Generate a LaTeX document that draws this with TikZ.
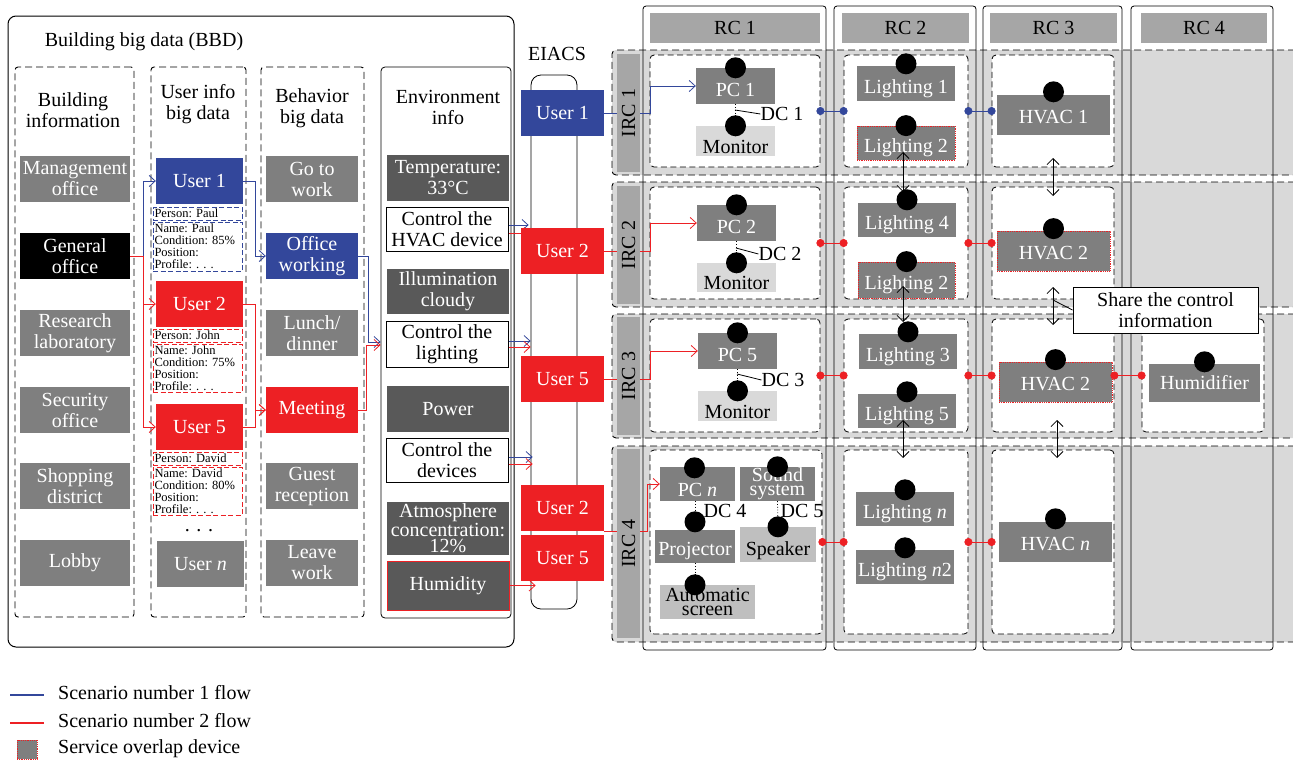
\documentclass[tikz,border=0pt]{standalone}
\usepackage{fontspec}
\setmainfont{Liberation Serif}
\usetikzlibrary{arrows.meta,calc}
\definecolor{cblue}{RGB}{51,71,155}
\definecolor{cred}{RGB}{237,32,36}
\definecolor{cgray}{RGB}{127,127,127}
\definecolor{cdark}{RGB}{89,89,89}
\definecolor{clight}{RGB}{217,217,217}
\definecolor{chead}{RGB}{166,166,166}
\definecolor{cmid}{RGB}{191,191,191}
\newcommand\mfs{\fontsize{20}{21}\selectfont}
\newcommand\sfs{\fontsize{12.5}{12}\selectfont\frenchspacing}
\begin{document}
\begin{tikzpicture}[x=1pt,y=-1pt,
  rect/.style n args={4}{at={({(#1+#3)/2},{(#2+#4)/2})}, minimum width={(#3-#1)*1pt}, minimum height={(#4-#2)*1pt}},
  mtext/.style={font=\mfs, align=center, inner sep=0pt},
  bx/.style={inner sep=0pt, align=center, font=\mfs},
  gbx/.style={bx, fill=cgray, text=white},
  kbx/.style={bx, fill=black, text=white},
  bbx/.style={bx, fill=cblue, text=white},
  rbx/.style={bx, fill=cred, text=white},
  dbx/.style={bx, fill=cdark, text=white},
  wbx/.style={bx, draw=black, fill=white, line width=1pt},
  hbx/.style={bx, fill=chead},
  pbx/.style={inner sep=0pt, dash pattern=on 5pt off 2.5pt, line width=0.9pt, font=\sfs, align=left, text width=86pt},
  dcol/.style={draw, dash pattern=on 7pt off 4pt, line width=0.9pt, rounded corners=3pt, inner sep=0pt},
  irow/.style={draw, fill=clight, dash pattern=on 7pt off 4pt, line width=0.9pt, rounded corners=4pt, inner sep=0pt},
  rcol/.style={draw, line width=0.8pt, rounded corners=3pt, inner sep=0pt},
  ccell/.style={draw, fill=white, dash pattern=on 6pt off 3.5pt, line width=0.8pt, rounded corners=4pt, inner sep=0pt},
  devl/.style={bx, fill=clight},
  devm/.style={bx, fill=cmid},
  ovl/.style={gbx, draw=cred, densely dotted, line width=0.8pt},
  blob/.style={circle, fill=black, minimum size=21pt, inner sep=0pt},
  bflow/.style={draw=cblue, line width=0.8pt},
  rflow/.style={draw=cred, line width=0.8pt},
  arr/.style={-{Straight Barb[length=6pt,width=11pt]}},
  dbl/.style={{Straight Barb[length=6pt,width=12pt]}-{Straight Barb[length=6pt,width=12pt]}, line width=0.8pt},
  lnk/.style={{Circle[length=8pt]}-{Circle[length=8pt]}, shorten <=-4pt, shorten >=-4pt, line width=0.8pt},
  irc/.style={fill=chead, rotate=90, minimum height=23pt, inner sep=0pt, font=\mfs},
  tl/.style={text height=#1, text depth=0pt}
]
\useasboundingbox (0,0) rectangle (1293,761);
\fill[white] (0,0) rectangle (1293,761);

% ---------------- BBD ----------------
\node[draw, rounded corners=8pt, line width=1pt, inner sep=0pt, rect={8}{16}{514}{647}] (bbd) {};
\node[mtext] (bbdt) at (144,42) {Building big data (BBD)};
\node[dcol, rect={15}{67}{134}{617}] (colb) {};
\node[dcol, rect={151}{67}{246}{617}] (colu) {};
\node[dcol, rect={261}{67}{364}{617}] (colh) {};
\node[mtext] (hb) at (73,110) {Building\\information};
\node[mtext] (hu) at (198,104) {User info\\big data};
\node[mtext] (hh) at (312,108) {Behavior\\big data};

\node[gbx, rect={20}{156}{130}{202}] (b1) {Management\\office};
\node[kbx, rect={20}{233}{130}{279}] (b2) {General\\office};
\node[gbx, rect={20}{310}{130}{356}] (b3) {Research\\laboratory};
\node[gbx, rect={20}{387}{130}{433}] (b4) {Security\\office};
\node[gbx, rect={20}{463}{130}{509}] (b5) {Shopping\\district};
\node[gbx, rect={20}{540}{130}{586}] (b6) {Lobby};

\node[bbx, rect={156}{158}{243}{204}] (u1) {User 1};
\node[pbx, draw=cblue, rect={153}{207}{242}{220}] (p1a) {Person: Paul};
\node[pbx, draw=cblue, rect={153}{222}{242}{271}] (p1b) {Name: Paul\\Condition: 85\%\\Position:\\Profile: . . .};
\node[rbx, rect={156}{281}{243}{327}] (u2) {User 2};
\node[pbx, draw=cred, rect={153}{329}{242}{342}] (p2a) {Person: John};
\node[pbx, draw=cred, rect={153}{344}{242}{392}] (p2b) {Name: John\\Condition: 75\%\\Position:\\Profile: . . .};
\node[rbx, rect={156}{404}{243}{450}] (u5) {User 5};
\node[pbx, draw=cred, rect={153}{452}{242}{465}] (p5a) {Person: David};
\node[pbx, draw=cred, rect={153}{467}{242}{515}] (p5b) {Name: David\\Condition: 80\%\\Position:\\Profile: . . .};
\node[mtext] (udots) at (199,531) {. . .};
\node[gbx, rect={157}{541}{244}{587}] (un) {User \textit{n}};

\node[gbx, rect={266}{156}{358}{202}] (h1) {Go to\\work};
\node[bbx, rect={266}{233}{358}{279}] (h2) {Office\\working};
\node[gbx, rect={266}{310}{358}{356}] (h3) {Lunch/\\dinner};
\node[rbx, rect={266}{387}{358}{433}] (h4) {Meeting};
\node[gbx, rect={266}{463}{358}{509}] (h5) {Guest\\reception};
\node[gbx, rect={266}{540}{358}{586}] (h6) {Leave\\work};

% ---------------- Environment ----------------
\node[draw, rounded corners=4pt, line width=0.8pt, inner sep=0pt, rect={381}{67}{511}{618}] (env) {};
\node[mtext] (envt) at (448,107) {Environment\\info};
\node[dbx, rect={387}{155}{509}{201}] (temp) {Temperature:\\33°C};
\node[wbx, rect={386}{207}{508}{251}] (cth) {Control the\\HVAC device};
\node[dbx, rect={387}{269}{509}{314}] (ill) {Illumination\\cloudy};
\node[wbx, rect={386}{321}{508}{367}] (ctl) {Control the\\lighting};
\node[dbx, rect={387}{386}{509}{432}] (pow) {Power};
\node[wbx, rect={386}{438}{508}{482}] (ctd) {Control the\\devices};
\node[dbx, font=\fontsize{20}{16.5}\selectfont, rect={387}{502}{509}{555}] (atm) {Atmosphere\\concentration:\\12\%};
\node[dbx, draw=cred, line width=0.9pt, rect={387}{561}{509}{610}] (hum) {Humidity};

% ---------------- EIACS ----------------
\node[mtext] (eiacst) at (557,54) {EIACS};
\node[draw, rounded corners=10pt, line width=0.8pt, inner sep=0pt, rect={531}{75}{577}{609}] (eiacs) {};

% ---------------- Right grid ----------------
\node[irow, rect={612}{50}{1310}{175}] (r1) {};
\node[irow, rect={612}{182}{1310}{307}] (r2) {};
\node[irow, rect={612}{314}{1310}{438}] (r3) {};
\node[irow, rect={612}{446}{1310}{642}] (r4) {};
\node[rcol, rect={643}{6}{826}{650}] (rc1) {};
\node[rcol, rect={834}{6}{976}{650}] (rc2) {};
\node[rcol, rect={983}{6}{1122}{650}] (rc3) {};
\node[rcol, rect={1131}{6}{1273}{650}] (rc4) {};
\node[hbx, rect={650}{13}{820}{43}] (hd1) {RC 1};
\node[hbx, rect={842}{13}{969}{43}] (hd2) {RC 2};
\node[hbx, rect={990}{13}{1117}{43}] (hd3) {RC 3};
\node[hbx, rect={1141}{13}{1267}{43}] (hd4) {RC 4};

\node[ccell, rect={650}{55}{820}{167}] (c11) {};
\node[ccell, rect={650}{187}{820}{299}] (c12) {};
\node[ccell, rect={650}{319}{820}{432}] (c13) {};
\node[ccell, rect={650}{450}{822}{634}] (c14) {};
\node[ccell, rect={844}{55}{968}{167}] (c21) {};
\node[ccell, rect={844}{187}{968}{299}] (c22) {};
\node[ccell, rect={844}{319}{968}{432}] (c23) {};
\node[ccell, rect={844}{450}{968}{634}] (c24) {};
\node[ccell, rect={992}{55}{1114}{167}] (c31) {};
\node[ccell, rect={992}{187}{1114}{299}] (c32) {};
\node[ccell, rect={992}{319}{1114}{432}] (c33) {};
\node[ccell, rect={992}{450}{1114}{634}] (c34) {};
\node[ccell, rect={1142}{319}{1264}{432}] (c43) {};

% devices RC1
\node[gbx, tl=21pt, rect={696}{68}{775}{104}] (pc1) {PC 1};
\node[devl, tl=24pt, rect={696}{126}{775}{156}] (mon1) {Monitor};
\node[gbx, tl=21pt, rect={697}{205}{776}{241}] (pc2) {PC 2};
\node[devl, tl=24pt, rect={697}{263}{776}{292}] (mon2) {Monitor};
\node[gbx, tl=21pt, rect={698}{333}{777}{369}] (pc5) {PC 5};
\node[devl, tl=24pt, rect={698}{391}{777}{421}] (mon5) {Monitor};
\node[gbx, tl=24pt, rect={660}{467}{735}{501}] (pcn) {PC \textit{n}};
\node[gbx, font=\fontsize{20}{14}\selectfont, rect={740}{467}{815}{501}] (snd) {Sound\\system};
\node[gbx, tl=17pt, rect={655}{530}{735}{563}] (proj) {Projector};
\node[devm, tl=21pt, rect={740}{527}{816}{562}] (spk) {Speaker};
\node[devm, font=\fontsize{20}{14}\selectfont, rect={660}{585}{755}{619}] (scr) {Automatic\\screen};

% devices RC2
\node[gbx, tl=19pt, rect={857}{66}{955}{101}] (l1) {Lighting 1};
\node[ovl, tl=19pt, rect={857}{126}{955}{160}] (l2a) {Lighting 2};
\node[gbx, tl=19pt, rect={858}{203}{956}{237}] (l4) {Lighting 4};
\node[ovl, tl=19pt, rect={858}{262}{955}{298}] (l2b) {Lighting 2};
\node[gbx, tl=19pt, rect={859}{334}{957}{369}] (l3) {Lighting 3};
\node[gbx, tl=19pt, rect={858}{394}{956}{428}] (l5) {Lighting 5};
\node[gbx, tl=19pt, rect={856}{492}{954}{526}] (lnn) {Lighting \textit{n}};
\node[gbx, tl=19pt, rect={856}{550}{954}{584}] (ln2) {Lighting \textit{n}2};

% devices RC3 / RC4
\node[gbx, tl=16pt, rect={997}{95}{1110}{135}] (hv1) {HVAC 1};
\node[ovl, tl=16pt, rect={997}{231}{1110}{271}] (hv2) {HVAC 2};
\node[ovl, tl=16pt, rect={999}{362}{1112}{402}] (hv3) {HVAC 2};
\node[gbx, tl=16pt, rect={999}{522}{1112}{562}] (hvn) {HVAC \textit{n}};
\node[gbx, tl=13pt, rect={1149}{364}{1260}{402}] (humi) {Humidifier};

% device-controller dotted links
\draw[dotted, line width=0.8pt] (pc1.south) -- (mon1.north);
\draw[dotted, line width=0.8pt] (pc2.south) -- (mon2.north);
\draw[dotted, line width=0.8pt] (pc5.south) -- (mon5.north);
\draw[dotted, line width=0.8pt] (snd.south) -- (spk.north);
\coordinate (pjc) at ($(proj.north)+(0,-8)$);
\coordinate (scc) at (pjc |- scr.north);
\draw[dotted, line width=0.8pt] (pcn.south -| pjc) -- (pjc);
\draw[dotted, line width=0.8pt] (proj.south -| pjc) -- (scc);

% blobs
\node[blob] (bpc1) at (pc1.north) {};
\node[blob] (bmon1) at (mon1.north) {};
\node[blob] (bpc2) at (pc2.north) {};
\node[blob] (bmon2) at (mon2.north) {};
\node[blob] (bpc5) at (pc5.north) {};
\node[blob] (bmon5) at (mon5.north) {};
\node[blob] (bpcn) at ($(pcn.north)+(-3,1)$) {};
\node[blob] (bsnd) at (snd.north) {};
\node[blob] (bproj) at (pjc) {};
\node[blob] (bspk) at (spk.north) {};
\node[blob] (bscr) at (scc) {};
\node[blob] (bl1) at ($(l1.north)+(0,-2)$) {};
\node[blob] (bl2a) at (l2a.north) {};
\node[blob] (bl4) at ($(l4.north)+(0,-3)$) {};
\node[blob] (bl2b) at (l2b.north) {};
\node[blob] (bl3) at ($(l3.north)+(0,-2)$) {};
\node[blob] (bl5) at ($(l5.north)+(0,-2)$) {};
\node[blob] (blnn) at ($(lnn.north)+(0,-2)$) {};
\node[blob] (bln2) at ($(ln2.north)+(0,-2)$) {};
\node[blob] (bhv1) at ($(hv1.north)+(0,-3)$) {};
\node[blob] (bhv2) at ($(hv2.north)+(0,-2)$) {};
\node[blob] (bhv3) at ($(hv3.north)+(0,-2)$) {};
\node[blob] (bhvn) at ($(hvn.north)+(0,-3)$) {};
\node[blob] (bhumi) at ($(humi.north)+(0,-2)$) {};

% DC labels
\node[mtext] (dc1) at (782,114) {DC 1};
\node[mtext] (dc2) at (780,254) {DC 2};
\node[mtext] (dc3) at (783,380) {DC 3};
\node[mtext] (dc4) at (725,511) {DC 4};
\node[mtext] (dc5) at (802,511) {DC 5};
\coordinate (dc1p) at (735,110);
\coordinate (dc2p) at (736,248);
\coordinate (dc3p) at (737,374);
\draw[line width=0.8pt] (dc1p) -- (dc1.west);
\draw[line width=0.8pt] (dc2p) -- (dc2.west);
\draw[line width=0.8pt] (dc3p) -- (dc3.west);

% vertical sharing arrows
\coordinate (a1t) at (903,152); \coordinate (a1b) at (903,192);
\coordinate (a2t) at (903,286); \coordinate (a2b) at (903,322);
\coordinate (a3t) at (903,420); \coordinate (a3b) at (903,458);
\coordinate (b1t) at (1053,158); \coordinate (b1b) at (1053,196);
\coordinate (b2t) at (1053,287); \coordinate (b2b) at (1053,325);
\coordinate (b3t) at (1057,420); \coordinate (b3b) at (1057,458);
\draw[dbl] (a1t) -- (a1b);
\draw[dbl] (a2t) -- (a2b);
\draw[dbl] (a3t) -- (a3b);
\draw[dbl] (b1t) -- (b1b);
\draw[dbl] (b2t) -- (b2b);
\draw[dbl] (b3t) -- (b3b);

% RC links
\draw[lnk, cblue] (c11.east) -- (c21.west);
\draw[lnk, cblue] (c21.east) -- (c31.west);
\draw[lnk, cred] (c12.east) -- (c22.west);
\draw[lnk, cred] (c22.east) -- (c32.west);
\draw[lnk, cred] (c13.east) -- (c23.west);
\draw[lnk, cred] (c23.east) -- (c33.west);
\draw[lnk, cred] (c33.east) -- (c43.west);
\draw[lnk, cred] (c14.east) -- (c24.west);
\draw[lnk, cred] (c24.east) -- (c34.west);

% ---------------- flows ----------------
\draw[rflow] (b2.east) -- ++(13,0) coordinate (gj);
\draw[bflow, arr] (gj) |- (u1.west);
\draw[rflow, arr] (gj) |- (u2.west);
\draw[rflow, arr] (gj) |- (u5.west);
\draw[bflow, arr] (u1.east) -- ++(12,0) |- (h2.west);
\draw[rflow, arr] (u2.east) -- ++(12,0) |- (h4.west);
\draw[rflow, arr] (u5.east) -- ++(12,0) |- (h4.west);
\coordinate (ctlb) at ($(env.west |- ctl.west)+(0,-2)$);
\coordinate (ctlr) at ($(env.west |- ctl.west)+(0,1)$);
\draw[bflow, arr] (h2.east) -- ++(10,0) |- (ctlb);
\draw[rflow, arr] (h4.east) -- ++(8,0) |- (ctlr);

\draw[bflow, arr] ($(cth.east)+(0,-4)$) -- ($(eiacs.west |- cth.east)+(-2,-4)$);
\draw[rflow, arr] ($(cth.east)+(0,4)$) -- ($(eiacs.west |- cth.east)+(0,4)$);
\draw[bflow, arr] ($(ctl.east)+(0,-3)$) -- ($(eiacs.west |- ctl.east)+(0,-3)$);
\draw[rflow, arr] ($(ctl.east)+(0,3)$) -- ($(eiacs.west |- ctl.east)+(0,3)$);
\draw[bflow, arr] ($(ctd.east)+(0,-3)$) -- ($(eiacs.west |- ctd.east)+(2,-3)$);
\draw[rflow, arr] ($(ctd.east)+(0,4)$) -- ($(eiacs.west |- ctd.east)+(2,4)$);
\draw[rflow, arr] (hum.east) -- ($(eiacs.west |- hum.east)+(5,0)$);

% EIACS users
\node[bbx, rect={521}{90}{604}{136}] (e1) {User 1};
\node[rbx, rect={521}{228}{604}{274}] (e2) {User 2};
\node[rbx, rect={521}{356}{604}{402}] (e3) {User 5};
\node[rbx, rect={521}{485}{604}{531}] (e4) {User 2};
\node[rbx, rect={521}{535}{604}{581}] (e5) {User 5};

\draw[bflow, arr] (e1.east) -- ++(46,0) |- (pc1.west);
\draw[rflow, arr] (e2.east) -- ++(46,0) |- (pc2.west);
\draw[rflow, arr] (e3.east) -- ++(46,0) |- (pc5.west);
\draw[rflow, arr] (e4.south east) -- ++(43,0) |- (pcn.west);

% IRC labels
\node[irc, minimum width=118pt] (i1) at (628.5,113) {IRC 1};
\node[irc, minimum width=118pt] (i2) at (628.5,245) {IRC 2};
\node[irc, minimum width=118pt] (i3) at (628.5,376) {IRC 3};
\node[irc, minimum width=189pt] (i4) at (628.5,543.5) {IRC 4};

% share box
\node[bx, draw, fill=white, line width=0.9pt, rect={1073}{287}{1258}{333}] (share) {Share the control\\information};
\coordinate (shp) at (1053,300);
\draw[line width=0.8pt] (share.west) -- (shp);

% ---------------- legend ----------------
\coordinate (lg1a) at (10,695); \coordinate (lg1b) at (44,695);
\coordinate (lg2a) at (10,723); \coordinate (lg2b) at (44,723);
\draw[bflow, line width=1.2pt] (lg1a) -- (lg1b);
\draw[rflow, line width=1.2pt] (lg2a) -- (lg2b);
\node[ovl, rect={17}{740}{37}{759}] (lsq) {};
\node[mtext, anchor=west] (lt1) at (58,693) {Scenario number 1 flow};
\node[mtext, anchor=west] (lt2) at (58,721) {Scenario number 2 flow};
\node[mtext, anchor=west] (lt3) at (58,749) {Service overlap device};
\end{tikzpicture}
\end{document}
